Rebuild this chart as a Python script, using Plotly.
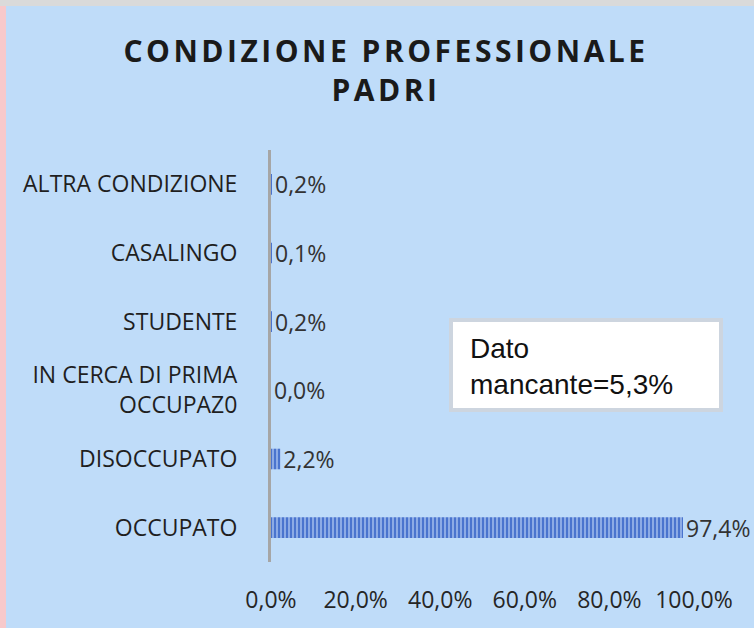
import plotly.graph_objects as go

# ---- data ----
categories = ["OCCUPATO", "DISOCCUPATO", "IN CERCA DI PRIMA<br>OCCUPAZ0",
              "STUDENTE", "CASALINGO", "ALTRA CONDIZIONE"]
values = [97.4, 2.2, 0.0, 0.2, 0.1, 0.2]
value_labels = ["97,4%", "2,2%", "0,0%", "0,2%", "0,1%", "0,2%"]
x_tickvals = [0, 20, 40, 60, 80, 100]
x_ticktext = ["0,0%", "20,0%", "40,0%", "60,0%", "80,0%", "100,0%"]
title_lines = ["CONDIZIONE PROFESSIONALE", "PADRI"]
note_text = "Dato<br>mancante=5,3%"

# ---- layout geometry (pixels) ----
W, H = 754, 628
L, R, T, B = 271, 60, 150, 66
PW, PH = W - L - R, H - T - B

def px_x(p):
    return (p - L) / PW

def px_y(p):
    return (H - B - p) / PH

BG = "#BFDCF9"
FONT = "Open Sans"

fig = go.Figure()
fig.add_trace(go.Bar(
    y=categories, x=values, orientation="h",
    text=value_labels, textposition="outside", cliponaxis=False,
    constraintext="none",
    textfont=dict(family=FONT, size=23, color="#333333"),
    width=0.3,
    marker=dict(color="#4A74CE", line=dict(width=0),
                pattern=dict(shape="|", fgcolor="#A9C3EF", bgcolor="#4A74CE",
                             size=4, solidity=0.35, fillmode="replace")),
    hoverinfo="skip",
))

title_html = "<br>".join(
    f"<span style='letter-spacing:3.5px'>{t}</span>" for t in title_lines)

fig.update_layout(
    width=W, height=H,
    margin=dict(l=L, r=R, t=T, b=B, autoexpand=False),
    paper_bgcolor=BG, plot_bgcolor=BG,
    showlegend=False,
    title=dict(text=title_html, x=386 / W, xref="container", xanchor="center",
               y=1 - 62 / H, yref="container", yanchor="middle",
               font=dict(family=FONT, size=30, color="#1A1A1A", weight="bold")),
    xaxis=dict(range=[0, 100], tickvals=x_tickvals, ticktext=x_ticktext,
               showgrid=False, zeroline=False, showline=False, ticks="",
               ticklabelstandoff=22,
               tickfont=dict(family=FONT, size=23, color="#262626")),
    yaxis=dict(showgrid=False, zeroline=False, showline=True,
               linecolor="#A6A6A6", linewidth=3, ticks="",
               ticklabelstandoff=26,
               tickfont=dict(family=FONT, size=23, color="#1F1F1F")),
    bargap=0.7,
)

# decorative frame edges of the original screenshot
fig.add_shape(type="rect", xref="paper", yref="paper",
              x0=px_x(0), x1=px_x(W), y0=px_y(6), y1=px_y(0),
              fillcolor="#DADADA", line=dict(width=0), layer="below")
fig.add_shape(type="rect", xref="paper", yref="paper",
              x0=px_x(0), x1=px_x(6), y0=px_y(H), y1=px_y(6),
              fillcolor="#F7C9CB", line=dict(width=0), layer="below")

# note box
fig.add_shape(type="rect", xref="paper", yref="paper",
              x0=px_x(451), x1=px_x(721), y0=px_y(410), y1=px_y(320),
              fillcolor="white", line=dict(color="#CDD5DF", width=4))
fig.add_annotation(text=note_text, xref="paper", yref="paper",
                   x=px_x(468), y=px_y(366), xanchor="left", yanchor="middle",
                   align="left", showarrow=False,
                   font=dict(family="Liberation Sans", size=28, color="#111111"))

fig.write_html("out.html", config={"displayModeBar": False},
               post_script="document.body.style.margin='0';")
